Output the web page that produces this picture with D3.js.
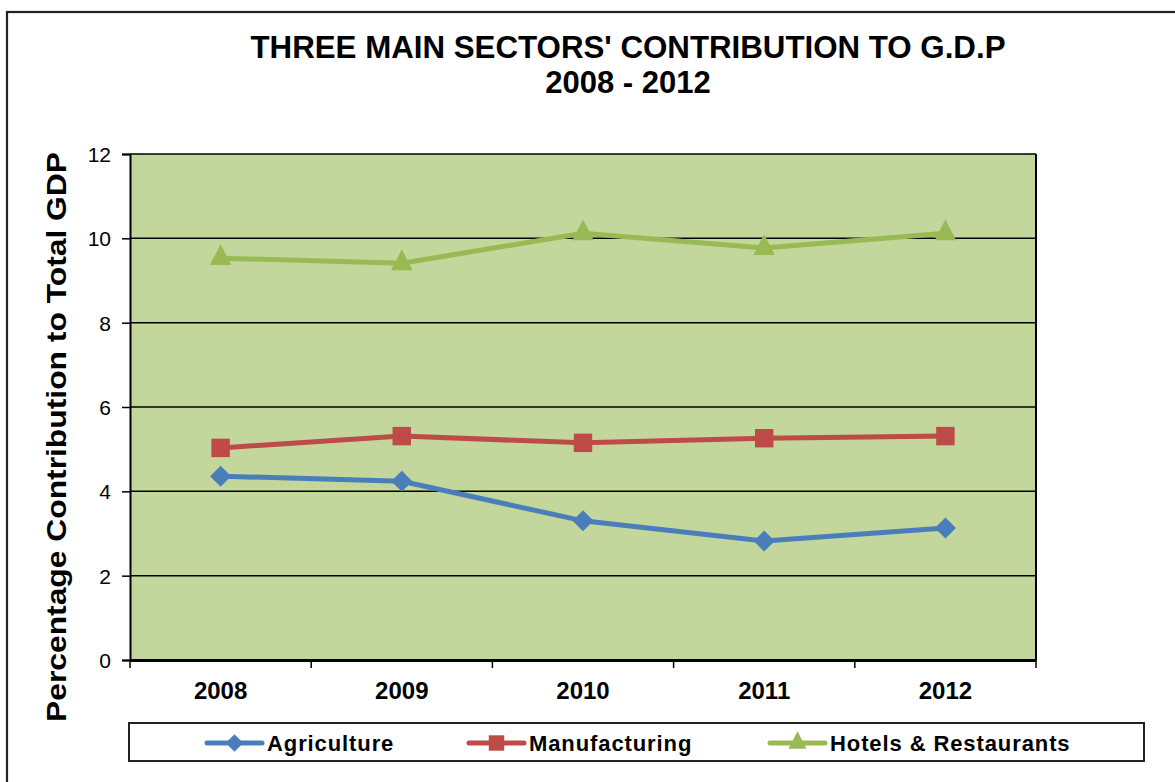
<!DOCTYPE html>
<html>
<head>
<meta charset="utf-8">
<script src="https://d3js.org/d3.v7.min.js"></script>
<style>
  body { margin: 0; background: #fff; }
  svg text { font-family: "Liberation Sans", Arial, Helvetica, sans-serif; fill: #000; }
  .title { font-weight: bold; font-size: 31px; text-anchor: middle; }
  .ytick text { font-size: 21px; }
  .xtick text { font-size: 24px; font-weight: bold; }
  .ylabel { font-weight: bold; font-size: 28px; text-anchor: middle; }
  .legend text { font-weight: bold; font-size: 22px; letter-spacing: 0.9px; }
</style>
</head>
<body>
<svg id="chart"></svg>
<script>
// data
var years = ["2008", "2009", "2010", "2011", "2012"];
var agriculture = [4.36, 4.24, 3.30, 2.82, 3.13];
var manufacturing = [5.03, 5.31, 5.15, 5.26, 5.31];
var hotels = [9.53, 9.41, 10.12, 9.77, 10.12];
var seriesNames = ["Agriculture", "Manufacturing", "Hotels & Restaurants"];
var yTicks = [0, 2, 4, 6, 8, 10, 12];

var W = 1175, H = 782;
var plot = { left: 130, right: 1036, top: 154, bottom: 660 };

var svg = d3.select("#chart").attr("width", W).attr("height", H);

// outer chart border
svg.append("rect")
  .attr("x", 7).attr("y", 12).attr("width", W + 20).attr("height", H + 20)
  .attr("fill", "#fff").attr("stroke", "#222").attr("stroke-width", 2.2);

var x = d3.scaleBand().domain(years).range([plot.left, plot.right]);
var y = d3.scaleLinear().domain([0, 12]).range([plot.bottom, plot.top]);

// plot background
svg.append("rect")
  .attr("x", plot.left).attr("y", plot.top)
  .attr("width", plot.right - plot.left).attr("height", plot.bottom - plot.top)
  .attr("fill", "#C3D69B");

// gridlines
svg.append("g").selectAll("line")
  .data(yTicks.filter(function(d) { return d > 0; }))
  .enter().append("line")
  .attr("x1", plot.left).attr("x2", plot.right)
  .attr("y1", function(d) { return y(d); }).attr("y2", function(d) { return y(d); })
  .attr("stroke", "#000").attr("stroke-width", 1.5);

// right border
svg.append("line")
  .attr("x1", plot.right).attr("x2", plot.right)
  .attr("y1", plot.top).attr("y2", plot.bottom)
  .attr("stroke", "#000").attr("stroke-width", 2);

// y axis
var yAxis = svg.append("g").attr("class", "ytick")
  .attr("transform", "translate(" + plot.left + ",0)")
  .call(d3.axisLeft(y).tickValues(yTicks).tickSize(8).tickPadding(11).tickFormat(d3.format("d")));
yAxis.select(".domain").attr("stroke", "#000").attr("stroke-width", 2);
yAxis.selectAll(".tick line").attr("stroke", "#000").attr("stroke-width", 1.5);
yAxis.selectAll("text").attr("dy", "0.36em");

// x axis
var xAxis = svg.append("g").attr("class", "xtick")
  .attr("transform", "translate(0," + plot.bottom + ")")
  .call(d3.axisBottom(x).tickSize(0).tickPadding(22));
xAxis.select(".domain").attr("stroke", "#000").attr("stroke-width", 3);
xAxis.selectAll("text").attr("dy", "0.71em");
// tick marks at category boundaries
var bounds = years.map(function(d) { return x(d); }).concat([plot.right]);
svg.append("g").selectAll("line").data(bounds).enter().append("line")
  .attr("x1", function(d) { return d; }).attr("x2", function(d) { return d; })
  .attr("y1", plot.bottom).attr("y2", plot.bottom + 8)
  .attr("stroke", "#000").attr("stroke-width", 1.5);

// title
svg.append("text").attr("class", "title")
  .attr("x", 628).attr("y", 58)
  .attr("textLength", 755).attr("lengthAdjust", "spacingAndGlyphs")
  .text("THREE MAIN SECTORS' CONTRIBUTION TO G.D.P");
svg.append("text").attr("class", "title")
  .attr("x", 628).attr("y", 93)
  .text("2008 - 2012");

// y label
svg.append("text").attr("class", "ylabel")
  .attr("transform", "translate(66,437) rotate(-90)")
  .attr("textLength", 570).attr("lengthAdjust", "spacingAndGlyphs")
  .text("Percentage Contribution to Total GDP");

// series
var series = [
  { name: seriesNames[0], values: agriculture, color: "#4A7EBB", shape: d3.symbolSquare, size: 200, tf: " rotate(45) scale(1.05,1.05)" },
  { name: seriesNames[1], values: manufacturing, color: "#BE4B48", shape: d3.symbolSquare, size: 340, tf: "" },
  { name: seriesNames[2], values: hotels, color: "#98B954", shape: d3.symbolTriangle, size: 200, tf: " scale(1,1.12)" }
];

var line = d3.line()
  .x(function(d, i) { return x(years[i]) + x.bandwidth() / 2; })
  .y(function(d) { return y(d); });

series.forEach(function(s) {
  svg.append("path")
    .attr("d", line(s.values))
    .attr("fill", "none").attr("stroke", s.color).attr("stroke-width", 5);
  svg.append("g").selectAll("path").data(s.values).enter().append("path")
    .attr("d", d3.symbol().type(s.shape).size(s.size))
    .attr("transform", function(d, i) {
      return "translate(" + (x(years[i]) + x.bandwidth() / 2) + "," + y(d) + ")" + s.tf;
    })
    .attr("fill", s.color);
});

// legend
var legend = svg.append("g").attr("class", "legend");
legend.append("rect")
  .attr("x", 129).attr("y", 723).attr("width", 1015).attr("height", 38)
  .attr("fill", "#fff").attr("stroke", "#222").attr("stroke-width", 2);
var legendX = [207, 469, 770];
series.forEach(function(s, i) {
  var g = legend.append("g").attr("transform", "translate(" + legendX[i] + ",743)");
  g.append("line").attr("x1", 0).attr("x2", 55).attr("y1", 0).attr("y2", 0)
    .attr("stroke", s.color).attr("stroke-width", 5).attr("stroke-linecap", "round");
  g.append("path")
    .attr("d", d3.symbol().type(s.shape).size(s.size * 0.7))
    .attr("transform", "translate(27.5,0)" + s.tf)
    .attr("fill", s.color);
  g.append("text").attr("x", 60).attr("y", 8).text(s.name);
});
</script>
</body>
</html>
